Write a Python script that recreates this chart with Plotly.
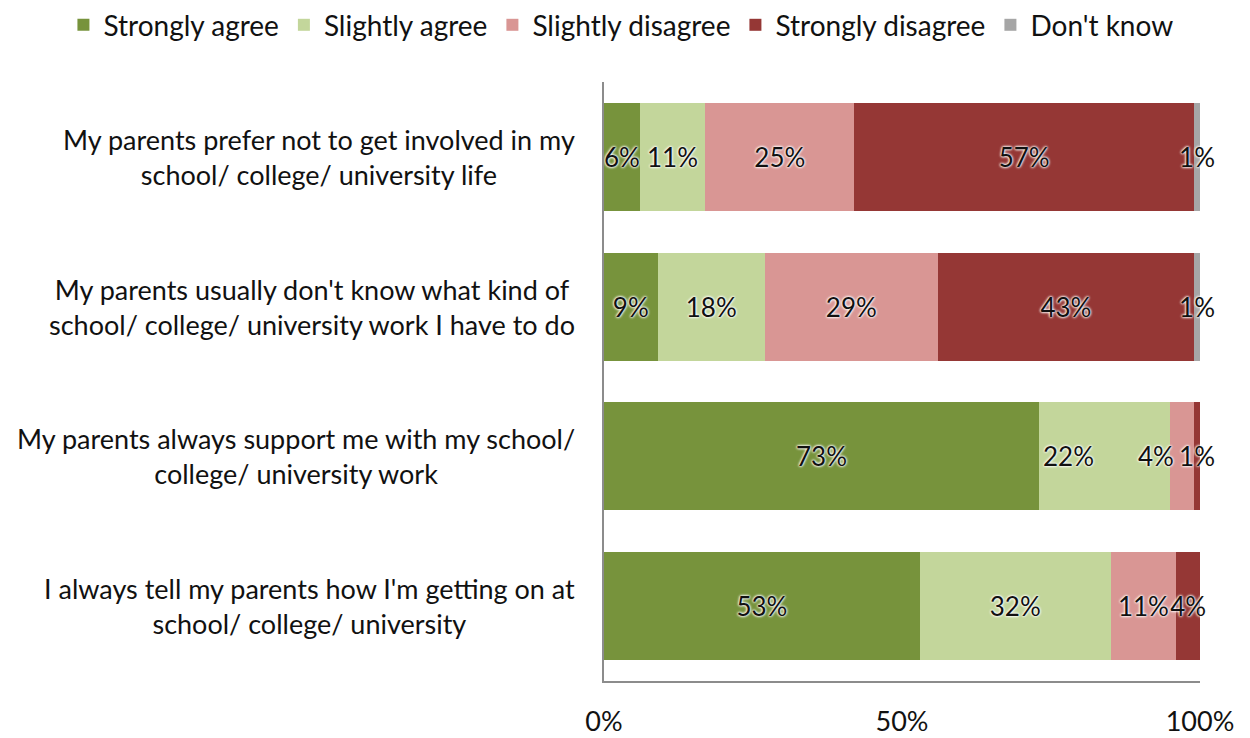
import plotly.graph_objects as go

# Survey statements (top to bottom) and response shares in percent
statements = [
    "My parents prefer not to get involved in my<br>school/ college/ university life",
    "My parents usually don't know what kind of<br>school/ college/ university work I have to do",
    "My parents always support me with my school/<br>college/ university work",
    "I always tell my parents how I'm getting on at<br>school/ college/ university",
]
responses = ["Strongly agree", "Slightly agree", "Slightly disagree", "Strongly disagree", "Don't know"]

strongly_agree = [6, 9, 73, 53]
slightly_agree = [11, 18, 22, 32]
slightly_disagree = [25, 29, 4, 11]
strongly_disagree = [57, 43, 1, 4]
dont_know = [1, 1, 0, 0]

series = [strongly_agree, slightly_agree, slightly_disagree, strongly_disagree, dont_know]
colors = ["#77933C", "#C3D69B", "#D99694", "#953735", "#A6A6A6"]

FONT = "Lato"
TEXT = "#111111"
GLOW = "0 0 3px #ffffff, 0 0 3px #ffffff, 0 0 2px #ffffff"
row_ids = list(range(len(statements)))

# Labels that would crowd a neighbour are moved sideways (pixels),
# keyed by (series index, row index)
label_nudge = {(1, 2): -36, (2, 2): -26}

fig = go.Figure()
for k, (name, vals, col) in enumerate(zip(responses, series, colors)):
    labels = []
    for i, v in enumerate(vals):
        labels.append("" if v == 0 or (k, i) in label_nudge else f"{v}%")
    fig.add_trace(go.Bar(
        name=name,
        y=row_ids,
        x=vals,
        orientation="h",
        marker=dict(color=col, line=dict(width=0)),
        width=0.72,
        text=labels,
        textposition="inside",
        insidetextanchor="middle",
        textangle=0,
        constraintext="none",
        cliponaxis=False,
        textfont=dict(family=FONT, size=26, color=TEXT, shadow=GLOW),
        hoverinfo="skip",
    ))

# Nudged segment labels, placed at the segment centre plus their offset
for (k, i), dx in label_nudge.items():
    start = sum(series[j][i] for j in range(k))
    v = series[k][i]
    fig.add_annotation(
        x=start + v / 2, y=i, xref="x", yref="y",
        text=f"{v}%", showarrow=False, xshift=dx,
        font=dict(family=FONT, size=26, color=TEXT, shadow=GLOW),
    )

# Centered two-line statement labels to the left of the bars
for i, s in enumerate(statements):
    fig.add_annotation(
        x=-0.045, xref="paper", xanchor="right",
        y=i, yref="y", yanchor="middle",
        text=s, showarrow=False, align="center",
        font=dict(family=FONT, size=27, color=TEXT),
    )

fig.update_layout(
    barmode="stack",
    width=1250, height=738,
    margin=dict(l=604, r=50, t=82, b=57, autoexpand=False),
    paper_bgcolor="white",
    plot_bgcolor="white",
    legend=dict(
        orientation="h",
        xref="paper", x=-0.907, xanchor="left",
        yref="paper", y=1.095, yanchor="middle",
        font=dict(family=FONT, size=28, color=TEXT),
        traceorder="normal",
    ),
    xaxis=dict(
        range=[0, 100],
        tickvals=[0, 50, 100],
        ticktext=["0%", "50%", "100%"],
        showgrid=False, zeroline=False,
        showline=True, linecolor="#8C8C8C", linewidth=1.5,
        ticks="", ticklabelstandoff=16,
        tickfont=dict(family=FONT, size=27, color=TEXT),
        automargin=False,
    ),
    yaxis=dict(
        range=[len(statements) - 0.5, -0.5],
        showticklabels=False,
        showgrid=False, zeroline=False,
        showline=True, linecolor="#8C8C8C", linewidth=1.5,
        ticks="", automargin=False,
    ),
)

fig.write_html("out.html")
